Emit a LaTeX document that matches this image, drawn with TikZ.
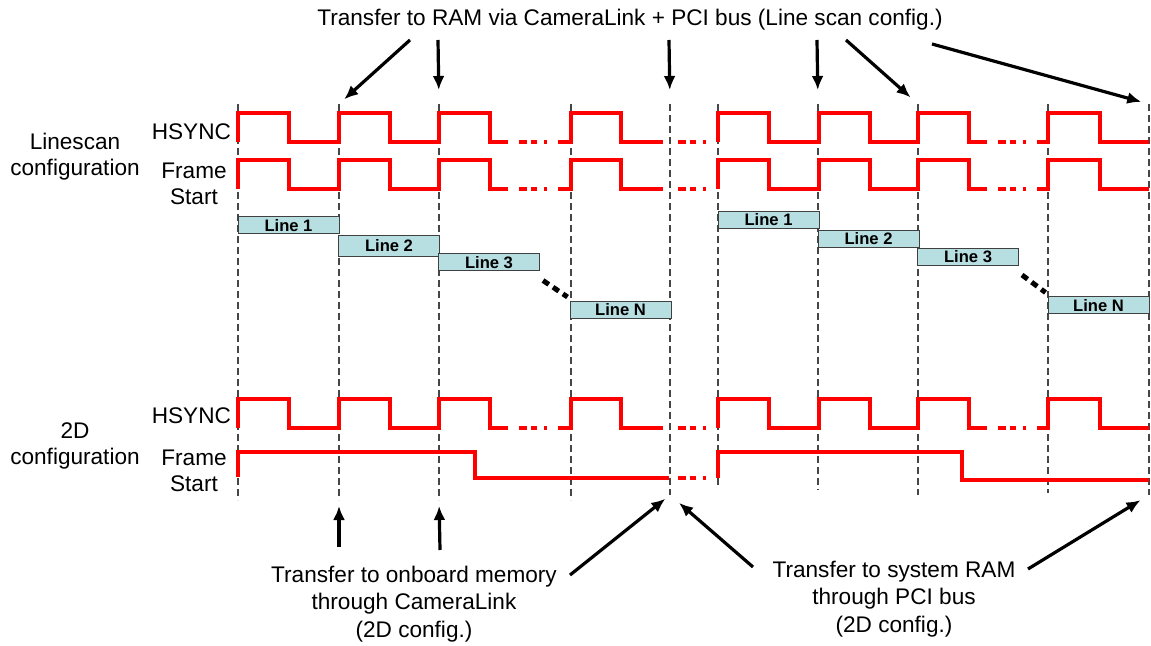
\documentclass[tikz,border=0pt]{standalone}
\usepackage{fontspec}
\setmainfont{Liberation Sans}
\usetikzlibrary{calc,arrows.meta}

\definecolor{boxfill}{RGB}{183,222,225}
\definecolor{guidegray}{RGB}{70,70,70}

\tikzset{
  sig/.style={red,line width=2pt},
  guide/.style={guidegray,line width=0.6pt,dash pattern=on 3.5pt off 2pt},
  linebox/.style={draw=black!75,fill=boxfill,line width=0.5pt,inner sep=0pt,
    minimum width=50.5pt,minimum height=8.5pt,font=\bfseries\fontsize{8.3}{9}\selectfont},
  xfer/.style={-{Latex[length=7pt,width=6pt]},line width=1.6pt},
  lbl/.style={font=\fontsize{11.3}{13}\selectfont,align=center},
  note/.style={font=\fontsize{11.3}{13.75}\selectfont,align=center},
  gapdots/.style={line width=2.5pt,dash pattern=on 3.5pt off 2.5pt}
}

% three short red dashes after a pulse group
\newcommand{\sigdots}[2]{%
  \foreach \a/\b in {0/8,12/18,25/28}
    \draw[sig] (#1+\a,#2) -- (#1+\b,#2);
}

% the pulse train used by HSYNC and line scan Frame Start, #1 high, #2 low
\newcommand{\pulsetrain}[2]{%
  \draw[sig] (238,#2) foreach \x in {238,339,439} {-- (\x,#2) -- (\x,#1) -- (\x+51,#1) -- (\x+51,#2)} -- (508,#2);
  \draw[sig] (558,#2) -- (571,#2) -- (571,#1) -- (621,#1) -- (621,#2) -- (663,#2);
  \draw[sig] (718,#2) foreach \x in {718,819,918} {-- (\x,#2) -- (\x,#1) -- (\x+51,#1) -- (\x+51,#2)} -- (987,#2);
  \draw[sig] (1037,#2) -- (1048,#2) -- (1048,#1) -- (1100,#1) -- (1100,#2) -- (1149,#2);
  \sigdots{519}{#2}
  \sigdots{678}{#2}
  \sigdots{998}{#2}
}

\begin{document}
\begin{tikzpicture}[x=0.5pt,y=-0.5pt]
  \useasboundingbox (0,0) rectangle (1151,646);

  % time marks
  \foreach \x/\yb [count=\i] in {238/500,339/500,439/500,571/500,670/495,718/487,818/490,918/495,1048/493,1149/495} {
    \coordinate (t\i) at (\x,104);
    \coordinate (b\i) at (\x,\yb);
    \draw[guide] (t\i) -- (b\i);
  }

  % line scan configuration
  \pulsetrain{113}{142}
  \pulsetrain{160}{189}

  \node[linebox] (l1) at (288.5,225.5) {Line 1};
  \node[linebox,minimum height=10.5pt] (l2) at (389,246) {Line 2};
  \node[linebox] (l3) at (489,262.5) {Line 3};
  \node[linebox] (lN) at (620.5,310) {Line N};
  \node[linebox] (r1) at (768.5,220) {Line 1};
  \node[linebox] (r2) at (868.5,239) {Line 2};
  \node[linebox] (r3) at (968,257) {Line 3};
  \node[linebox] (rN) at (1098.5,305.5) {Line N};

  \draw[gapdots] ($(l3.south east)+(3,9)$) -- ($(lN.north west)+(-2,-4)$);
  \draw[gapdots] ($(r3.south east)+(3,9)$) -- ($(rN.north west)+(-2,-4)$);

  % 2D configuration
  \pulsetrain{399}{428}
  \draw[sig] (238,477) -- (238,452) -- (475,452) -- (475,478) -- (669,478);
  \sigdots{678}{478}
  \draw[sig] (718,478) -- (718,452) -- (962,452) -- (962,480) -- (1149,480);

  % labels
  \node[lbl] (ls) at (75,157) {Linescan\\configuration};
  \node[lbl,anchor=east] (hs1) at (238,132) {HSYNC};
  \node[lbl] (fs1) at (194,184) {Frame\\Start};
  \node[lbl] (cfg2d) at (75,446) {2D\\configuration};
  \node[lbl,anchor=east] (hs2) at (238,416) {HSYNC};
  \node[lbl] (fs2) at (194,471) {Frame\\Start};

  \node[lbl] (ram) at (630,20) {Transfer to RAM via CameraLink + PCI bus (Line scan config.)};
  \node[note] (onb) at (414,604) {Transfer to onboard memory\\through CameraLink\\(2D config.)};
  \node[note] (sys) at (894,599) {Transfer to system RAM\\through PCI bus\\(2D config.)};

  % transfer arrows
  \coordinate (s1) at (410,40);
  \coordinate (s2) at (438,40);
  \coordinate (s3) at (669,40);
  \coordinate (s4) at (817,40);
  \coordinate (s5) at (846,40);
  \coordinate (s6) at (932,44);
  \draw[xfer,shorten >=3.5pt] (s1) -- (t2);
  \draw[xfer,shorten >=7pt] (s2) -- (t3);
  \draw[xfer,shorten >=7pt] (s3) -- (t5);
  \draw[xfer,shorten >=7pt] (s4) -- (t7);
  \draw[xfer,shorten >=5pt] (s5) -- (t8);
  \draw[xfer,shorten >=4pt] (s6) -- (t10);

  \coordinate (u1) at (339,547);
  \coordinate (u2) at (440,550);
  \coordinate (u3) at (570,575);
  \coordinate (u4) at (753,567);
  \coordinate (u5) at (1028,569);
  \draw[xfer,shorten >=3pt] (u1) -- (b2);
  \draw[xfer,shorten >=3pt] (u2) -- (b3);
  \draw[xfer,shorten >=3pt] (u3) -- (b5);
  \draw[xfer,shorten >=6pt] (u4) -- (b5);
  \draw[xfer,shorten >=5pt] (u5) -- (b10);
\end{tikzpicture}
\end{document}
